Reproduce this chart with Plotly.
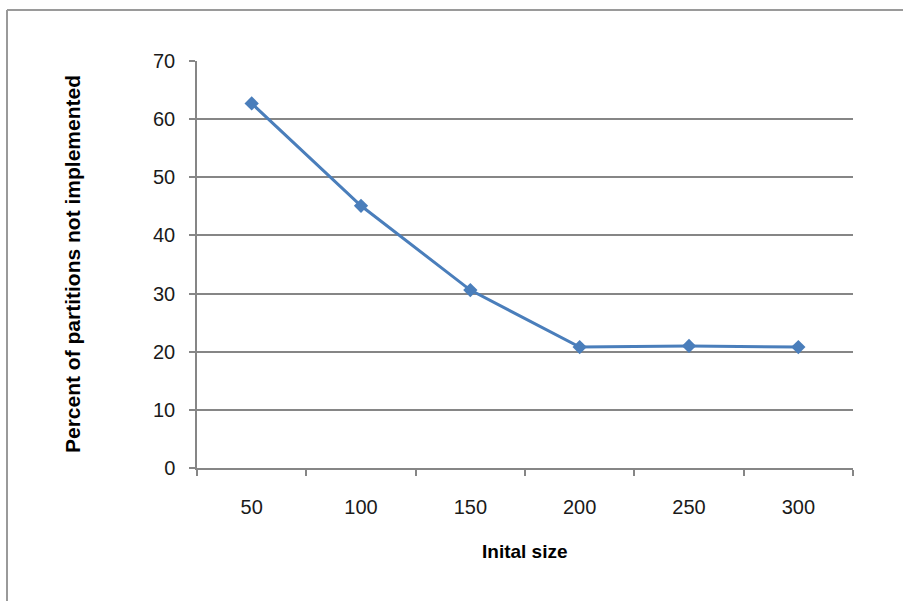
import plotly.graph_objects as go

# Initial partition size vs. share of partitions left unimplemented
initial_size = ["50", "100", "150", "200", "250", "300"]
pct_not_implemented = [62.7, 45.1, 30.6, 20.8, 21.0, 20.8]
y_ticks = [0, 10, 20, 30, 40, 50, 60, 70]

W, H = 903, 601
L, R, T, B = 197, 50, 61, 133
plot_w = W - L - R
plot_h = H - T - B

def px_x(px):
    return (px - L) / plot_w

def px_y(py):
    return (H - B - py) / plot_h

line_color = "#4A7EBB"
grid_color = "#868686"
font_family = "Liberation Sans, Arial, sans-serif"

fig = go.Figure()
fig.add_trace(go.Scatter(
    x=initial_size,
    y=pct_not_implemented,
    mode="lines+markers",
    line=dict(color=line_color, width=3),
    marker=dict(symbol="diamond", size=11, color=line_color),
    showlegend=False,
))

fig.update_layout(
    width=W,
    height=H,
    margin=dict(l=L, r=R, t=T, b=B, pad=0),
    paper_bgcolor="white",
    plot_bgcolor="white",
    font=dict(family=font_family, size=20, color="#1a1a1a"),
    xaxis=dict(
        type="category",
        range=[-0.5, 5.5],
        tickson="boundaries",
        ticks="outside",
        ticklen=6,
        tickwidth=1.5,
        tickcolor=grid_color,
        showline=True,
        linecolor=grid_color,
        linewidth=1.5,
        showgrid=False,
        ticklabelstandoff=20,
        tickfont=dict(size=20),
        zeroline=False,
    ),
    yaxis=dict(
        range=[0, 70],
        tickvals=y_ticks,
        ticks="outside",
        ticklen=6,
        tickwidth=1.5,
        tickcolor=grid_color,
        showline=True,
        linecolor=grid_color,
        linewidth=1.5,
        showgrid=True,
        gridcolor=grid_color,
        gridwidth=1.5,
        zeroline=False,
        ticklabelstandoff=10,
        tickfont=dict(size=20),
    ),
    annotations=[
        dict(
            text="<b>Inital size</b>",
            xref="paper", yref="paper",
            x=0.5, y=px_y(551),
            xanchor="center", yanchor="middle",
            showarrow=False,
            font=dict(size=19, family=font_family, color="#000000"),
        ),
        dict(
            text="<b>Percent of partitions not implemented</b>",
            xref="paper", yref="paper",
            x=px_x(72), y=px_y(264),
            xanchor="center", yanchor="middle",
            textangle=-90,
            showarrow=False,
            font=dict(size=21, family=font_family, color="#000000"),
        ),
    ],
    shapes=[
        # chart-area frame (left and top edges)
        dict(type="line", xref="paper", yref="paper",
             x0=px_x(7), x1=px_x(920), y0=px_y(10), y1=px_y(10),
             line=dict(color="#9A9A9A", width=2)),
        dict(type="line", xref="paper", yref="paper",
             x0=px_x(7), x1=px_x(7), y0=px_y(10), y1=px_y(620),
             line=dict(color="#9A9A9A", width=2)),
    ],
)

fig.write_html("out.html")
